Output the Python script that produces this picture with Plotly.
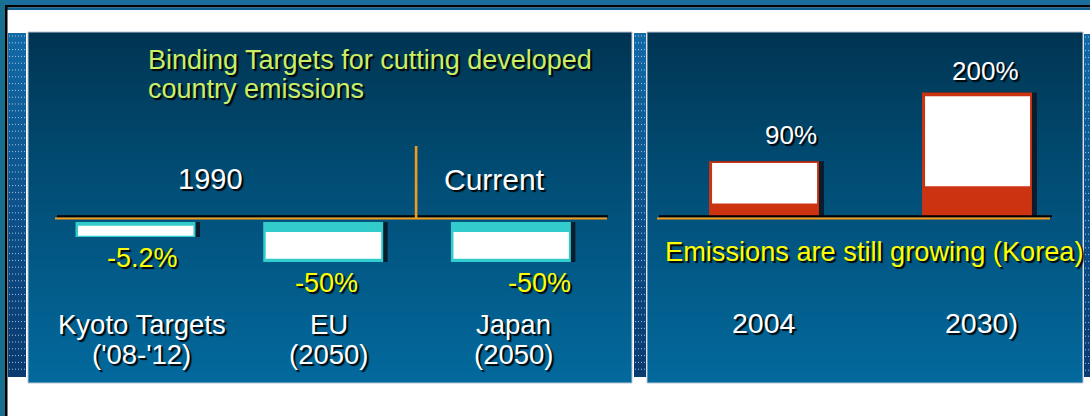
import plotly.graph_objects as go

# ---------------- data ----------------
left_cat_line1 = ["Kyoto Targets", "EU", "Japan"]
left_cat_line2 = ["('08-'12)", "(2050)", "(2050)"]
left_target_pct = [-5.2, -50, -50]          # label values
left_bar_depth = [-1.5, -4.0, -4.0]         # drawn bar depth (arbitrary units)

korea_years = ["2004", "2030)"]
korea_growth_pct = [90, 200]

title_lines = ["Binding Targets for cutting developed", "country emissions"]
header_left = "1990"
header_right = "Current"
korea_title = "Emissions are still growing (Korea)"

# ---------------- helpers ----------------
W, H = 1090, 416
FONT = "Arial, 'Liberation Sans', sans-serif"
SHADOW = "2px 2px 1px rgba(0,0,0,0.95)"


def fx(x):
    return x / W


def fy(y):
    return 1 - y / H


shapes = []


def rect(x0, y0, x1, y1, color, layer="below", line=None):
    d = dict(type="rect", xref="paper", yref="paper",
             x0=fx(x0), x1=fx(x1), y0=fy(y1), y1=fy(y0),
             fillcolor=color, layer=layer, line=dict(width=0))
    if line:
        d["line"] = line
    shapes.append(d)


def hexrgb(h):
    h = h.lstrip("#")
    return tuple(int(h[i:i + 2], 16) for i in (0, 2, 4))


def lerp(c0, c1, t):
    a, b = hexrgb(c0), hexrgb(c1)
    return "rgb(%d,%d,%d)" % tuple(round(a[i] + (b[i] - a[i]) * t) for i in range(3))


def gradient(x0, y0, x1, y1, ctop, cbot, step=2, gamma=0.85):
    y = y0
    while y < y1:
        yy = min(y + step, y1)
        t = ((y + yy) / 2 - y0) / (y1 - y0)
        rect(x0, y, x1, min(yy + 0.6, y1), lerp(ctop, cbot, t ** gamma))
        y = yy


def dotted_strip(x0, y0, x1, y1):
    gradient(x0, y0, x1, y1, "#1169a6", "#0a3a70", step=6, gamma=1.0)
    y = y0 + 3
    while y < y1 - 2:
        shapes.append(dict(type="line", xref="paper", yref="paper",
                           x0=fx(x0 + 1), x1=fx(x1 - 1), y0=fy(y), y1=fy(y),
                           line=dict(color="rgba(220,235,250,0.75)", width=1, dash="1px,2px"),
                           layer="below"))
        y += 6.8


# ---------------- frame / background ----------------
rect(0, 0, W, 5, "#1b6e9e")
rect(0, 5, W, 7.5, "#000000")
rect(0, 7.5, W, 10, "#0d5f92")
rect(0, 0, 5, H, "#187090")
rect(5, 5, 7.5, H, "#000000")

dotted_strip(8, 33, 26, 377)
dotted_strip(634, 33, 646, 377)
dotted_strip(1084, 34, 1092, 377)

# panels
for (px0, px1) in [(28, 632), (647, 1083)]:
    gradient(px0, 32, px1, 383, "#003350", "#03699d")
    shapes.append(dict(type="rect", xref="paper", yref="paper",
                       x0=fx(px0), x1=fx(px1), y0=fy(383), y1=fy(32),
                       line=dict(color="#b9c6d3", width=1), fillcolor="rgba(0,0,0,0)",
                       layer="below"))

ORANGE = "#f29a1a"
# left baseline + divider
rect(57, 215.3, 608, 217.3, "#000000", layer="above")
rect(55, 217.4, 607, 219.4, ORANGE, layer="above")
rect(414.8, 146, 417.4, 218, ORANGE, layer="above")
# right baseline
rect(659, 215.3, 1052, 217.3, "#000000", layer="above")
rect(657, 217.4, 1050, 219.4, ORANGE, layer="above")

# ---------------- bars ----------------
CYAN = "#33cccc"
RED = "#cc3311"
SHADE = "#0b1d2c"
idxL = list(range(len(left_cat_line1)))
idxR = list(range(len(korea_years)))

wL = 0.639
shiftL = 0.024
fig = go.Figure()
fig.add_trace(go.Bar(x=idxL, y=left_bar_depth, width=wL, offset=-wL / 2 + shiftL,
                     marker=dict(color=SHADE, line=dict(width=0)), xaxis="x", yaxis="y",
                     hoverinfo="skip"))
fig.add_trace(go.Bar(x=idxL, y=left_bar_depth, width=wL, offset=-wL / 2,
                     marker=dict(color=CYAN, line=dict(width=0)), xaxis="x", yaxis="y",
                     hoverinfo="skip"))
fig.add_trace(go.Bar(x=idxL, y=[0.67 * d for d in left_bar_depth],
                     base=[0.25 * d for d in left_bar_depth],
                     width=0.615, offset=-wL / 2 + 0.0133,
                     marker=dict(color="#ffffff", line=dict(width=0)), xaxis="x", yaxis="y",
                     hoverinfo="skip"))

wR = 0.516
shiftR = 0.0235
fig.add_trace(go.Bar(x=idxR, y=korea_growth_pct, width=wR, offset=-wR / 2 + shiftR,
                     marker=dict(color=SHADE, line=dict(width=0)), xaxis="x2", yaxis="y2",
                     hoverinfo="skip"))
fig.add_trace(go.Bar(x=idxR, y=korea_growth_pct, width=wR, offset=-wR / 2,
                     marker=dict(color=RED, line=dict(width=0)), xaxis="x2", yaxis="y2",
                     hoverinfo="skip"))
fig.add_trace(go.Bar(x=idxR, y=[0.72 * v for v in korea_growth_pct],
                     base=[0.25 * v for v in korea_growth_pct],
                     width=0.493, offset=-wR / 2 + 0.0141,
                     marker=dict(color="#ffffff", line=dict(width=0)), xaxis="x2", yaxis="y2",
                     hoverinfo="skip"))

# ---------------- text ----------------
annotations = []


def ann(text, x, y, size, color, xref="paper", xanchor="center", xshift=0):
    annotations.append(dict(text=text, x=x, y=y, xref=xref, yref="paper",
                            xanchor=xanchor, yanchor="middle", xshift=xshift,
                            showarrow=False,
                            font=dict(family=FONT, size=size, color=color, shadow=SHADOW)))


ann(title_lines[0], fx(146), fy(60.5), 27, "#ccee66", xanchor="left")
ann(title_lines[1], fx(146), fy(89), 27, "#ccee66", xanchor="left")
ann(header_left, fx(210), fy(179), 29, "#ffffff")
ann(header_right, fx(494), fy(179), 30, "#ffffff")

pct_y = [258, 283, 283]
pct_shift = [7, 3, 29]
for i, v in enumerate(left_target_pct):
    ann("%g%%" % v, i, fy(pct_y[i]), 27, "#ffff00", xref="x", xshift=pct_shift[i])

cat_shift = [6, 6, 3]
for i in idxL:
    ann(left_cat_line1[i], i, fy(324), 27.5, "#ffffff", xref="x", xshift=cat_shift[i])
    ann(left_cat_line2[i], i, fy(354), 27.5, "#ffffff", xref="x", xshift=cat_shift[i])

val_y = [135, 71]
val_shift = [27, 8]
for i, v in enumerate(korea_growth_pct):
    ann("%g%%" % v, i, fy(val_y[i]), 26, "#ffffff", xref="x2", xshift=val_shift[i])

ann(korea_title, fx(874), fy(252), 27.2, "#ffff00")
yr_shift = [0, 4]
for i, t in enumerate(korea_years):
    ann(t, i, fy(323), 28.5, "#ffffff", xref="x2", xshift=yr_shift[i])

# ---------------- layout ----------------
sL = 187.7
cL = 135.5
sR = 213.0
cR = 764.0
ax = dict(visible=False, fixedrange=True, showgrid=False, zeroline=False)
fig.update_layout(
    width=W, height=H, margin=dict(l=0, r=0, t=0, b=0, pad=0),
    paper_bgcolor="#ffffff", plot_bgcolor="rgba(0,0,0,0)",
    showlegend=False, barmode="overlay",
    xaxis=dict(ax, domain=[fx(cL - sL / 2), fx(cL + 2.5 * sL)], range=[-0.5, 2.5], anchor="y"),
    yaxis=dict(ax, domain=[fy(302), fy(222)], range=[-8, 0], anchor="x"),
    xaxis2=dict(ax, domain=[fx(cR - sR / 2), fx(cR + 1.5 * sR)], range=[-0.5, 1.5], anchor="y2"),
    yaxis2=dict(ax, domain=[fy(217.5), fy(30)], range=[0, 300], anchor="x2"),
    shapes=shapes,
    annotations=annotations,
)

fig.write_html("out.html")
